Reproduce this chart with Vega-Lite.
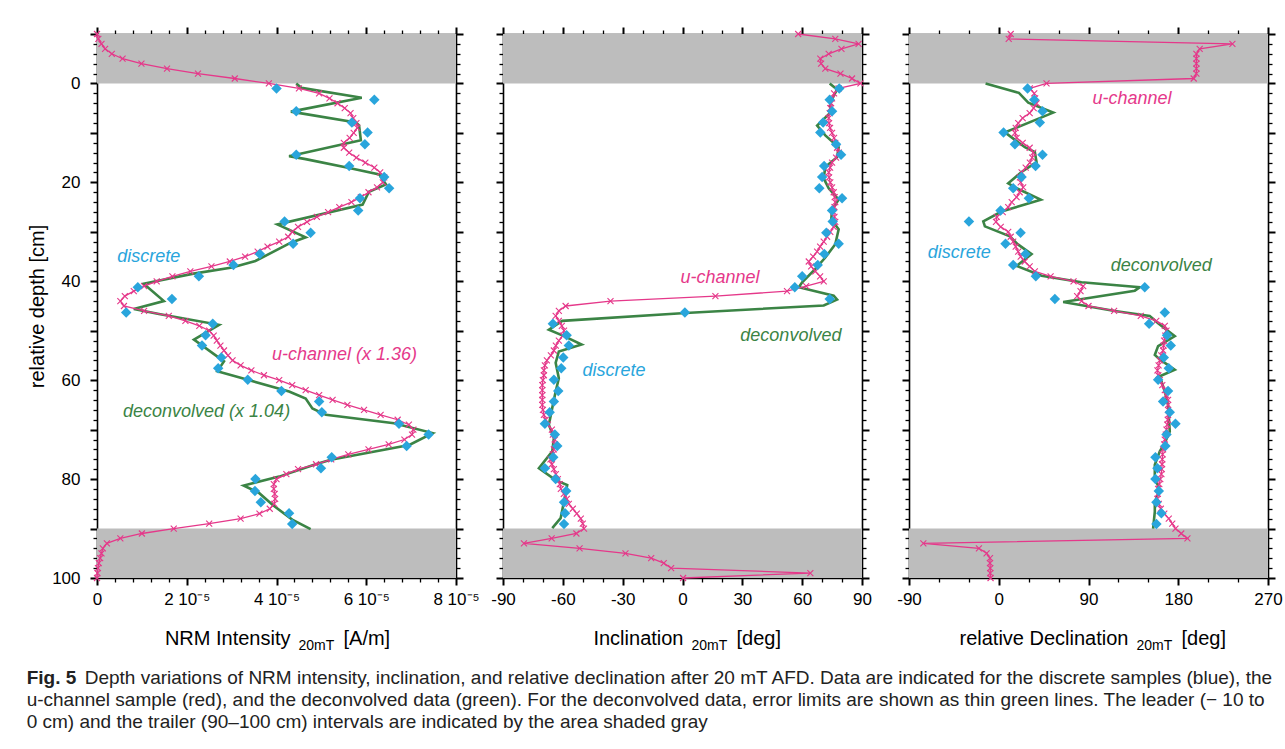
{
  "$schema": "https://vega.github.io/schema/vega-lite/v6.json",
  "background": "white",
  "padding": {"left": 26, "top": 25, "right": 5, "bottom": 5},
  "datasets": {
    "shade": [{"top": -10, "bottom": 0}, {"top": 90, "bottom": 100}],
    "intU": [
      {"d":-10,"v":0},{"d":-9,"v":0.03e-5},{"d":-8,"v":0.10e-5},{"d":-7,"v":0.18e-5},{"d":-6,"v":0.33e-5},{"d":-5,"v":0.57e-5},{"d":-4,"v":0.99e-5},{"d":-3,"v":1.56e-5},{"d":-2,"v":2.25e-5},{"d":-1,"v":3.07e-5},
      {"d":0,"v":3.83e-5},{"d":1,"v":4.50e-5},{"d":2,"v":4.95e-5},{"d":3,"v":5.18e-5},{"d":4,"v":5.36e-5},{"d":5,"v":5.52e-5},{"d":6,"v":5.65e-5},{"d":7,"v":5.71e-5},{"d":8,"v":5.78e-5},{"d":9,"v":5.80e-5},
      {"d":10,"v":5.72e-5},{"d":11,"v":5.63e-5},{"d":12,"v":5.50e-5},{"d":13,"v":5.50e-5},{"d":14,"v":5.62e-5},{"d":15,"v":5.78e-5},{"d":16,"v":5.98e-5},{"d":17,"v":6.18e-5},{"d":18,"v":6.31e-5},{"d":19,"v":6.40e-5},
      {"d":20,"v":6.37e-5},{"d":21,"v":6.24e-5},{"d":22,"v":6.05e-5},{"d":23,"v":5.88e-5},{"d":24,"v":5.67e-5},{"d":25,"v":5.40e-5},{"d":26,"v":5.15e-5},{"d":27,"v":4.90e-5},{"d":28,"v":4.68e-5},{"d":29,"v":4.48e-5},
      {"d":30,"v":4.35e-5},{"d":31,"v":4.26e-5},{"d":32,"v":4.06e-5},{"d":33,"v":3.80e-5},{"d":34,"v":3.58e-5},{"d":35,"v":3.30e-5},{"d":36,"v":2.96e-5},{"d":37,"v":2.55e-5},{"d":38,"v":2.08e-5},{"d":39,"v":1.68e-5},
      {"d":40,"v":1.33e-5},{"d":41,"v":1.05e-5},{"d":42,"v":0.82e-5},{"d":43,"v":0.62e-5},{"d":44,"v":0.52e-5},{"d":45,"v":0.60e-5},{"d":46,"v":1.05e-5},{"d":47,"v":1.60e-5},{"d":48,"v":1.97e-5},{"d":49,"v":2.28e-5},
      {"d":50,"v":2.50e-5},{"d":51,"v":2.60e-5},{"d":52,"v":2.67e-5},{"d":53,"v":2.75e-5},{"d":54,"v":2.83e-5},{"d":55,"v":2.92e-5},{"d":56,"v":3.02e-5},{"d":57,"v":3.20e-5},{"d":58,"v":3.44e-5},{"d":59,"v":3.72e-5},
      {"d":60,"v":4.06e-5},{"d":61,"v":4.35e-5},{"d":62,"v":4.65e-5},{"d":63,"v":4.95e-5},{"d":64,"v":5.25e-5},{"d":65,"v":5.58e-5},{"d":66,"v":5.95e-5},{"d":67,"v":6.32e-5},{"d":68,"v":6.70e-5},{"d":69,"v":6.95e-5},
      {"d":70,"v":7.05e-5},{"d":71,"v":7.02e-5},{"d":72,"v":6.85e-5},{"d":73,"v":6.50e-5},{"d":74,"v":6.05e-5},{"d":75,"v":5.60e-5},{"d":76,"v":5.22e-5},{"d":77,"v":4.88e-5},{"d":78,"v":4.48e-5},{"d":79,"v":4.22e-5},
      {"d":80,"v":4.00e-5},{"d":81,"v":3.94e-5},{"d":82,"v":3.94e-5},{"d":83,"v":3.96e-5},{"d":84,"v":3.97e-5},{"d":85,"v":3.95e-5},{"d":86,"v":3.85e-5},{"d":87,"v":3.62e-5},{"d":88,"v":3.20e-5},{"d":89,"v":2.50e-5},
      {"d":90,"v":1.71e-5},{"d":91,"v":1.00e-5},{"d":92,"v":0.52e-5},{"d":93,"v":0.22e-5},{"d":94,"v":0.13e-5},{"d":95,"v":0.10e-5},{"d":96,"v":0.07e-5},{"d":97,"v":0.04e-5},{"d":98,"v":0.02e-5},{"d":99,"v":0.01e-5},{"d":100,"v":0}
    ],
    "intD": [
      {"d":1.0,"v":4.00e-5},{"d":3.3,"v":6.18e-5},{"d":5.6,"v":4.44e-5},{"d":7.9,"v":5.68e-5},{"d":9.9,"v":6.03e-5},{"d":12.3,"v":5.97e-5},{"d":14.4,"v":4.44e-5},{"d":16.7,"v":5.62e-5},{"d":18.9,"v":6.40e-5},{"d":21.2,"v":6.51e-5},
      {"d":23.2,"v":5.86e-5},{"d":25.7,"v":5.82e-5},{"d":27.9,"v":4.18e-5},{"d":30.2,"v":4.76e-5},{"d":32.4,"v":4.37e-5},{"d":34.5,"v":3.63e-5},{"d":36.7,"v":3.04e-5},{"d":39.0,"v":2.27e-5},{"d":41.2,"v":0.91e-5},{"d":43.6,"v":1.67e-5},
      {"d":46.3,"v":0.65e-5},{"d":48.6,"v":2.58e-5},{"d":50.9,"v":2.42e-5},{"d":53.0,"v":2.34e-5},{"d":55.4,"v":2.77e-5},{"d":57.6,"v":2.70e-5},{"d":59.9,"v":3.36e-5},{"d":62.2,"v":4.11e-5},{"d":64.3,"v":4.95e-5},{"d":66.5,"v":5.01e-5},
      {"d":68.8,"v":6.73e-5},{"d":71.0,"v":7.39e-5},{"d":73.3,"v":6.90e-5},{"d":75.6,"v":5.23e-5},{"d":77.8,"v":4.99e-5},{"d":80.0,"v":3.53e-5},{"d":82.4,"v":3.52e-5},{"d":84.7,"v":3.65e-5},{"d":86.9,"v":4.28e-5},{"d":89.1,"v":4.35e-5}
    ],
    "intG": [
      {"d":0,"v":4.44e-5},{"d":0.9,"v":4.56e-5},{"d":2.9,"v":5.90e-5},{"d":5.7,"v":4.32e-5},{"d":7.9,"v":5.77e-5},{"d":8.5,"v":5.84e-5},{"d":11.5,"v":5.88e-5},{"d":14.7,"v":4.28e-5},{"d":15.3,"v":4.65e-5},{"d":17.1,"v":5.62e-5},
      {"d":18.4,"v":6.29e-5},{"d":20.4,"v":6.44e-5},{"d":21.9,"v":6.06e-5},{"d":24.5,"v":5.92e-5},{"d":28.5,"v":4.02e-5},{"d":31.1,"v":4.65e-5},{"d":32.2,"v":4.32e-5},{"d":35.9,"v":3.53e-5},{"d":37.2,"v":3.01e-5},{"d":38.5,"v":2.12e-5},
      {"d":40.5,"v":1.04e-5},{"d":44.0,"v":1.49e-5},{"d":45.6,"v":0.82e-5},{"d":46.6,"v":1.38e-5},{"d":48.8,"v":2.72e-5},{"d":51.8,"v":2.16e-5},{"d":56.2,"v":2.83e-5},{"d":58.2,"v":2.68e-5},{"d":59.4,"v":3.16e-5},{"d":62.3,"v":4.28e-5},
      {"d":63.7,"v":4.65e-5},{"d":65.7,"v":4.80e-5},{"d":67.0,"v":5.10e-5},{"d":68.7,"v":6.62e-5},{"d":70.7,"v":7.48e-5},{"d":73.1,"v":6.96e-5},{"d":76.1,"v":5.21e-5},{"d":77.1,"v":4.84e-5},{"d":79.5,"v":4.06e-5},{"d":81.3,"v":3.27e-5},
      {"d":82.8,"v":3.61e-5},{"d":85.2,"v":3.91e-5},{"d":88.2,"v":4.35e-5},{"d":90.1,"v":4.76e-5}
    ],
    "incU": [
      {"d":-10,"v":58},{"d":-9,"v":76.6},{"d":-8,"v":88.3},{"d":-7,"v":79.7},{"d":-6,"v":73.3},{"d":-5,"v":69.1},{"d":-4,"v":69.5},{"d":-3,"v":71.6},{"d":-2,"v":79.2},{"d":-1,"v":85},
      {"d":0,"v":89.2},{"d":1,"v":78.3},{"d":2,"v":76},{"d":3,"v":75},{"d":4,"v":74.5},{"d":5,"v":74.1},{"d":6,"v":73.8},{"d":7,"v":73.3},{"d":8,"v":73.5},{"d":9,"v":74},
      {"d":10,"v":75},{"d":11,"v":76},{"d":12,"v":76.6},{"d":13,"v":77.5},{"d":14,"v":78.3},{"d":15,"v":77},{"d":16,"v":75},{"d":17,"v":74},{"d":18,"v":73.3},{"d":19,"v":73.5},
      {"d":20,"v":74.1},{"d":21,"v":75},{"d":22,"v":75.8},{"d":23,"v":76.3},{"d":24,"v":76.6},{"d":25,"v":76.2},{"d":26,"v":75.8},{"d":27,"v":76.2},{"d":28,"v":76.6},{"d":29,"v":75.8},
      {"d":30,"v":74.1},{"d":31,"v":72.5},{"d":32,"v":70.8},{"d":33,"v":69},{"d":34,"v":67.5},{"d":35,"v":65.5},{"d":36,"v":63.3},{"d":37,"v":64.5},{"d":38,"v":66.6},{"d":39,"v":69},
      {"d":40,"v":70.8},{"d":41,"v":62},{"d":42,"v":52.4},{"d":43,"v":16.5},{"d":44,"v":-36.1},{"d":45,"v":-58.6},{"d":46,"v":-62},{"d":47,"v":-63.6},{"d":48,"v":-62},{"d":49,"v":-60.5},
      {"d":50,"v":-59.4},{"d":51,"v":-60},{"d":52,"v":-62},{"d":53,"v":-63.5},{"d":54,"v":-64.5},{"d":55,"v":-66},{"d":56,"v":-68},{"d":57,"v":-69},{"d":58,"v":-69.5},{"d":59,"v":-69.5},
      {"d":60,"v":-70},{"d":61,"v":-70.3},{"d":62,"v":-70.3},{"d":63,"v":-70.3},{"d":64,"v":-70.3},{"d":65,"v":-70.3},{"d":66,"v":-70},{"d":67,"v":-69.5},{"d":68,"v":-68.6},{"d":69,"v":-67.5},
      {"d":70,"v":-65.5},{"d":71,"v":-65},{"d":72,"v":-64},{"d":73,"v":-64},{"d":74,"v":-64.5},{"d":75,"v":-65},{"d":76,"v":-66.2},{"d":77,"v":-65.5},{"d":78,"v":-64.5},{"d":79,"v":-63.5},
      {"d":80,"v":-62.5},{"d":81,"v":-61.5},{"d":82,"v":-61},{"d":83,"v":-59.5},{"d":84,"v":-58},{"d":85,"v":-57},{"d":86,"v":-55},{"d":87,"v":-53},{"d":88,"v":-51},{"d":89,"v":-50},
      {"d":90,"v":-49.4},{"d":91,"v":-53.2},{"d":92,"v":-65.6},{"d":93,"v":-79.5},{"d":94,"v":-51.6},{"d":95,"v":-28.6},{"d":96,"v":-15.7},{"d":97,"v":-9.4},{"d":98,"v":-5.7},{"d":99,"v":64.1},{"d":100,"v":0.3}
    ],
    "incD": [
      {"d":1.0,"v":78.6},{"d":3.3,"v":73.8},{"d":5.6,"v":75.0},{"d":7.9,"v":70.5},{"d":9.9,"v":69.1},{"d":12.3,"v":77.0},{"d":14.4,"v":79.5},{"d":16.7,"v":71.0},{"d":18.9,"v":70.0},{"d":21.2,"v":68.6},
      {"d":23.2,"v":80.0},{"d":25.7,"v":75.0},{"d":27.9,"v":75.3},{"d":30.2,"v":72.1},{"d":32.4,"v":78.3},{"d":34.5,"v":71.1},{"d":36.7,"v":67.8},{"d":39.0,"v":60.0},{"d":41.2,"v":56.3},{"d":43.6,"v":73.8},
      {"d":46.3,"v":1.2},{"d":48.6,"v":-65},{"d":50.9,"v":-58.1},{"d":53.0,"v":-57},{"d":55.4,"v":-59.8},{"d":57.6,"v":-60.8},{"d":59.9,"v":-64.5},{"d":62.2,"v":-62.3},{"d":64.3,"v":-64.5},{"d":66.5,"v":-66.6},
      {"d":68.8,"v":-69},{"d":71.0,"v":-64},{"d":73.3,"v":-62.8},{"d":75.6,"v":-64.8},{"d":77.8,"v":-69},{"d":80.0,"v":-63.6},{"d":82.4,"v":-58.3},{"d":84.7,"v":-59.4},{"d":86.9,"v":-58.9},{"d":89.1,"v":-59.4}
    ],
    "incG": [
      {"d":0,"v":73.8},{"d":1.2,"v":77.5},{"d":3.9,"v":74.1},{"d":5.9,"v":74.1},{"d":8.5,"v":67.5},{"d":10.5,"v":71.6},{"d":12.9,"v":78.3},{"d":14.9,"v":77.5},{"d":16.9,"v":71.6},{"d":19.2,"v":70.8},
      {"d":21.2,"v":73.3},{"d":23.5,"v":78.3},{"d":25.5,"v":75.0},{"d":27.5,"v":74.6},{"d":29.5,"v":78.3},{"d":32.5,"v":76.6},{"d":35.2,"v":71.6},{"d":37.5,"v":66.6},{"d":40.2,"v":60.0},{"d":41.2,"v":58.3},
      {"d":42.9,"v":75.8},{"d":43.7,"v":77.5},{"d":44.9,"v":70.8},{"d":46.4,"v":1.5},{"d":48.0,"v":-60.3},{"d":49.8,"v":-67},{"d":51.1,"v":-59.4},{"d":52.8,"v":-50.6},{"d":54.2,"v":-62},{"d":56.5,"v":-63.6},
      {"d":59.6,"v":-62},{"d":62.3,"v":-63.6},{"d":65.6,"v":-65.3},{"d":69.0,"v":-67},{"d":71.7,"v":-64.5},{"d":74.4,"v":-65.3},{"d":77.8,"v":-72},{"d":80.2,"v":-63.6},{"d":81.2,"v":-57.8},{"d":84.5,"v":-59.4},
      {"d":87.9,"v":-61.1},{"d":89.9,"v":-65.3}
    ],
    "decU": [
      {"d":-10,"v":12},{"d":-9,"v":10},{"d":-8,"v":234.3},{"d":-7,"v":201.5},{"d":-6,"v":198.2},{"d":-5,"v":198.2},{"d":-4,"v":198.2},{"d":-3,"v":198.2},{"d":-2,"v":198.2},{"d":-1,"v":195.5},
      {"d":0,"v":47.9},{"d":1,"v":31.2},{"d":2,"v":35.6},{"d":3,"v":36.5},{"d":4,"v":37.9},{"d":5,"v":35},{"d":6,"v":31},{"d":7,"v":24},{"d":8,"v":19.5},{"d":9,"v":17},
      {"d":10,"v":16.2},{"d":11,"v":17.9},{"d":12,"v":24},{"d":13,"v":31},{"d":14,"v":34.6},{"d":15,"v":33.5},{"d":16,"v":31.2},{"d":17,"v":27},{"d":18,"v":22.9},{"d":19,"v":21.2},
      {"d":20,"v":22},{"d":21,"v":24.5},{"d":22,"v":21},{"d":23,"v":17.9},{"d":24,"v":13},{"d":25,"v":9.5},{"d":26,"v":4},{"d":27,"v":-2},{"d":28,"v":-2.8},{"d":29,"v":2},
      {"d":30,"v":9.5},{"d":31,"v":12},{"d":32,"v":14.5},{"d":33,"v":17},{"d":34,"v":19.5},{"d":35,"v":22},{"d":36,"v":26},{"d":37,"v":31},{"d":38,"v":36.2},{"d":39,"v":52},
      {"d":40,"v":75},{"d":41,"v":84.7},{"d":42,"v":82},{"d":43,"v":78.6},{"d":44,"v":83},{"d":45,"v":90},{"d":46,"v":115.7},{"d":47,"v":142.4},{"d":48,"v":158},{"d":49,"v":166.5},
      {"d":50,"v":168.2},{"d":51,"v":167},{"d":52,"v":165.8},{"d":53,"v":165.3},{"d":54,"v":164.8},{"d":55,"v":163},{"d":56,"v":161.5},{"d":57,"v":160.3},{"d":58,"v":159.1},{"d":59,"v":160},
      {"d":60,"v":161.5},{"d":61,"v":164},{"d":62,"v":166.5},{"d":63,"v":168},{"d":64,"v":169.8},{"d":65,"v":169.8},{"d":66,"v":169.8},{"d":67,"v":169.8},{"d":68,"v":169.5},{"d":69,"v":169},
      {"d":70,"v":168.2},{"d":71,"v":167.5},{"d":72,"v":166.5},{"d":73,"v":166},{"d":74,"v":164.8},{"d":75,"v":164.3},{"d":76,"v":164},{"d":77,"v":163.8},{"d":78,"v":163.5},{"d":79,"v":163.1},
      {"d":80,"v":162},{"d":81,"v":161},{"d":82,"v":159.8},{"d":83,"v":159.5},{"d":84,"v":159.1},{"d":85,"v":160.5},{"d":86,"v":162.5},{"d":87,"v":166},{"d":88,"v":170.5},{"d":89,"v":174},
      {"d":90,"v":177.2},{"d":91,"v":183},{"d":92,"v":189.2},{"d":93,"v":-75.6},{"d":94,"v":-19.9},{"d":95,"v":-12.2},{"d":96,"v":-8.8},{"d":97,"v":-8.8},{"d":98,"v":-8.5},{"d":99,"v":-8.5},{"d":100,"v":-8.2}
    ],
    "decD": [
      {"d":1.0,"v":28.9},{"d":3.3,"v":35.6},{"d":5.6,"v":43.9},{"d":7.9,"v":41.2},{"d":9.9,"v":4.8},{"d":12.3,"v":16.2},{"d":14.4,"v":43.9},{"d":16.7,"v":36.9},{"d":18.9,"v":22.9},{"d":21.2,"v":14.5},
      {"d":23.2,"v":30.2},{"d":25.7,"v":1.8},{"d":27.9,"v":-29.9},{"d":30.2,"v":21.9},{"d":32.4,"v":6.8},{"d":34.5,"v":26.9},{"d":36.7,"v":14.5},{"d":39.0,"v":37.2},{"d":41.2,"v":146.4},{"d":43.6,"v":56.3},
      {"d":46.3,"v":166.5},{"d":48.6,"v":150.8},{"d":50.9,"v":168.8},{"d":53.0,"v":172.5},{"d":55.4,"v":165.5},{"d":57.6,"v":170.5},{"d":59.9,"v":159.8},{"d":62.2,"v":169.8},{"d":64.3,"v":164.8},{"d":66.5,"v":171.5},
      {"d":68.8,"v":177.2},{"d":71.0,"v":168.2},{"d":73.3,"v":167.1},{"d":75.6,"v":157.1},{"d":77.8,"v":159.1},{"d":80.0,"v":157.1},{"d":82.4,"v":160.5},{"d":84.7,"v":158.1},{"d":86.9,"v":163.1},{"d":89.1,"v":158.1}
    ],
    "decG": [
      {"d":0,"v":-13.2},{"d":1.9,"v":20.2},{"d":3.9,"v":29.6},{"d":5.9,"v":54.6},{"d":9.9,"v":6.2},{"d":10.9,"v":12.9},{"d":12.9,"v":26.2},{"d":13.9,"v":36.2},{"d":15.9,"v":37.9},{"d":17.9,"v":22.9},
      {"d":20.2,"v":9.5},{"d":21.2,"v":17.9},{"d":23.5,"v":42.2},{"d":25.9,"v":2.8},{"d":27.9,"v":-15.5},{"d":28.9,"v":-13.9},{"d":30.9,"v":11.2},{"d":32.5,"v":18.9},{"d":34.5,"v":32.9},{"d":36.9,"v":17.9},
      {"d":38.9,"v":42.9},{"d":40.2,"v":83.0},{"d":41.2,"v":141.4},{"d":41.9,"v":136.4},{"d":44.2,"v":64.6},{"d":46.0,"v":116.4},{"d":47.0,"v":151.4},{"d":48.5,"v":159.8},{"d":51.1,"v":176.5},{"d":53.1,"v":159.8},
      {"d":54.9,"v":156.5},{"d":55.8,"v":161.5},{"d":57.9,"v":176.5},{"d":59.2,"v":161.5},{"d":62.3,"v":166.5},{"d":65.0,"v":169.8},{"d":70.4,"v":171.5},{"d":72.7,"v":166.5},{"d":74.4,"v":161.5},{"d":77.1,"v":156.5},
      {"d":79.8,"v":156.5},{"d":82.2,"v":161.5},{"d":84.6,"v":156.5},{"d":86.6,"v":156.5},{"d":90.0,"v":154.8}
    ],
    "intLab": [
      {"t":"discrete","s":"discrete","v":0.45e-5,"d":35.0},
      {"t":"u-channel (x 1.36)","s":"u-channel","v":3.90e-5,"d":55.0},
      {"t":"deconvolved (x 1.04)","s":"deconvolved","v":0.58e-5,"d":66.4}
    ],
    "incLab": [
      {"t":"u-channel","s":"u-channel","v":-1.0,"d":39.3},
      {"t":"deconvolved","s":"deconvolved","v":29.0,"d":51.1},
      {"t":"discrete","s":"discrete","v":-50.2,"d":58.1}
    ],
    "decLab": [
      {"t":"u-channel","s":"u-channel","v":94.0,"d":3.2},
      {"t":"discrete","s":"discrete","v":-71.3,"d":34.2},
      {"t":"deconvolved","s":"deconvolved","v":112.3,"d":36.9}
    ],
    "intTitle": [{"main":"NRM Intensity","sub":"20mT","unit":"[A/m]"}],
    "incTitle": [{"main":"Inclination","sub":"20mT","unit":"[deg]"}],
    "decTitle": [{"main":"relative Declination","sub":"20mT","unit":"[deg]"}]
  },
  "title": {
    "text": "Fig. 5",
    "subtitle": [
      "\u200b\u00a0\u00a0\u00a0\u00a0\u00a0\u00a0\u00a0\u00a0\u00a0\u00a0\u00a0Depth variations of NRM intensity, inclination, and relative declination after 20 mT AFD. Data are indicated for the discrete samples (blue), the",
      "u-channel sample (red), and the deconvolved data (green). For the deconvolved data, error limits are shown as thin green lines. The leader (\u2212 10 to",
      "0 cm) and the trailer (90\u2013100 cm) intervals are indicated by the area shaded gray"
    ],
    "orient": "bottom",
    "anchor": "start",
    "frame": "bounds",
    "offset": 16,
    "dx": -1,
    "font": "Liberation Sans",
    "fontSize": 19,
    "fontWeight": "bold",
    "color": "#222222",
    "subtitleFont": "Liberation Sans",
    "subtitleFontSize": 19,
    "subtitleColor": "#222222",
    "subtitleLineHeight": 22,
    "subtitlePadding": -19
  },
  "spacing": 47,
  "bounds": "flush",
  "hconcat": [
    {
      "width": 359, "height": 544,
      "resolve": {"axis": {"x": "independent", "y": "independent"}},
      "layer": [
        {
          "data": {"name": "shade"},
          "mark": {"type": "rect", "color": "#bdbdbd"},
          "encoding": {
            "x": {"datum": 0, "type": "quantitative",
              "scale": {"domain": [0, 0.00008], "nice": false, "zero": false},
              "axis": {"orient": "bottom", "title": null,
                "values": [0, 0.000004, 0.000008, 0.000012, 0.000016, 0.00002, 0.000024, 0.000028, 0.000032, 0.000036, 0.00004, 0.000044, 0.000048, 0.000052, 0.000056, 0.00006, 0.000064, 0.000068, 0.000072, 0.000076, 0.00008],
                "labelExpr": "round(datum.value*1e6) % 20 === 0 ? (datum.value === 0 ? '0' : round(datum.value*1e5) + ' 10\u207b\u2075') : ''",
                "tickSize": {"condition": {"test": "round(datum.value*1e6) % 20 === 0", "value": 7}, "value": 4},
                "tickWidth": {"condition": {"test": "round(datum.value*1e6) % 20 === 0", "value": 2}, "value": 1.3},
                "labelPadding": 6}},
            "x2": {"datum": 0.00008},
            "y": {"field": "top", "type": "quantitative",
              "scale": {"domain": [-10, 100], "reverse": true, "nice": false, "zero": false},
              "axis": {"orient": "left", "title": "relative depth [cm]",
                "values": [-10,-8,-6,-4,-2,0,2,4,6,8,10,12,14,16,18,20,22,24,26,28,30,32,34,36,38,40,42,44,46,48,50,52,54,56,58,60,62,64,66,68,70,72,74,76,78,80,82,84,86,88,90,92,94,96,98,100],
                "labelExpr": "datum.value % 20 === 0 ? datum.label : ''",
                "tickSize": {"condition": {"test": "datum.value % 10 === 0", "value": 7}, "value": 4},
                "tickWidth": {"condition": {"test": "datum.value % 10 === 0", "value": 2}, "value": 1.3},
                "labelPadding": 10, "titlePadding": 4}},
            "y2": {"field": "bottom"}
          }
        },
        {
          "data": {"name": "intG"},
          "mark": {"type": "line", "color": "#3b8445", "strokeWidth": 2.6},
          "encoding": {
            "x": {"field": "v", "type": "quantitative",
              "axis": {"orient": "top", "title": null, "labels": false,
                "values": [0, 0.000004, 0.000008, 0.000012, 0.000016, 0.00002, 0.000024, 0.000028, 0.000032, 0.000036, 0.00004, 0.000044, 0.000048, 0.000052, 0.000056, 0.00006, 0.000064, 0.000068, 0.000072, 0.000076, 0.00008],
                "tickSize": {"condition": {"test": "round(datum.value*1e6) % 20 === 0", "value": 7}, "value": 4},
                "tickWidth": {"condition": {"test": "round(datum.value*1e6) % 20 === 0", "value": 2}, "value": 1.3}}},
            "y": {"field": "d", "type": "quantitative",
              "axis": {"orient": "right", "title": null, "labels": false,
                "values": [-10,-8,-6,-4,-2,0,2,4,6,8,10,12,14,16,18,20,22,24,26,28,30,32,34,36,38,40,42,44,46,48,50,52,54,56,58,60,62,64,66,68,70,72,74,76,78,80,82,84,86,88,90,92,94,96,98,100],
                "tickSize": {"condition": {"test": "datum.value % 10 === 0", "value": 7}, "value": 4},
                "tickWidth": {"condition": {"test": "datum.value % 10 === 0", "value": 2}, "value": 1.3}}},
            "order": {"field": "d", "type": "quantitative"}
          }
        },
        {
          "data": {"name": "intU"},
          "mark": {"type": "line", "color": "#e5388a", "strokeWidth": 1.3},
          "encoding": {
            "x": {"field": "v", "type": "quantitative", "axis": null},
            "y": {"field": "d", "type": "quantitative", "axis": null},
            "order": {"field": "d", "type": "quantitative"}
          }
        },
        {
          "data": {"name": "intU"},
          "mark": {"type": "point", "shape": "M-1,-1L1,1M-1,1L1,-1", "filled": false, "color": "#e5388a", "strokeWidth": 1.1, "size": 36, "opacity": 1},
          "encoding": {
            "x": {"field": "v", "type": "quantitative", "axis": null},
            "y": {"field": "d", "type": "quantitative", "axis": null}
          }
        },
        {
          "data": {"name": "intD"},
          "mark": {"type": "point", "shape": "diamond", "filled": true, "color": "#29a5dc", "size": 110, "opacity": 1},
          "encoding": {
            "x": {"field": "v", "type": "quantitative", "axis": null},
            "y": {"field": "d", "type": "quantitative", "axis": null}
          }
        },
        {
          "data": {"name": "intLab"},
          "mark": {"type": "text", "align": "left", "baseline": "middle", "font": "Liberation Sans", "fontStyle": "italic", "fontSize": 18},
          "encoding": {
            "x": {"field": "v", "type": "quantitative", "axis": null},
            "y": {"field": "d", "type": "quantitative", "axis": null},
            "text": {"field": "t"},
            "color": {"field": "s", "type": "nominal", "legend": null,
              "scale": {"domain": ["discrete", "u-channel", "deconvolved"], "range": ["#29a5dc", "#e5388a", "#3b8445"]}}
          }
        },
        {
          "data": {"name": "intTitle"},
          "mark": {"type": "text", "align": "right", "baseline": "alphabetic", "font": "Liberation Sans", "fontSize": 20, "dx": 14, "color": "black"},
          "encoding": {"x": {"datum": 0.00004, "type": "quantitative", "axis": null}, "y": {"datum": 113.6, "type": "quantitative", "axis": null}, "text": {"field": "main"}}
        },
        {
          "data": {"name": "intTitle"},
          "mark": {"type": "text", "align": "left", "baseline": "alphabetic", "font": "Liberation Sans", "fontSize": 14, "dx": 22, "dy": 5, "color": "black"},
          "encoding": {"x": {"datum": 0.00004, "type": "quantitative", "axis": null}, "y": {"datum": 113.6, "type": "quantitative", "axis": null}, "text": {"field": "sub"}}
        },
        {
          "data": {"name": "intTitle"},
          "mark": {"type": "text", "align": "left", "baseline": "alphabetic", "font": "Liberation Sans", "fontSize": 20, "dx": 67, "color": "black"},
          "encoding": {"x": {"datum": 0.00004, "type": "quantitative", "axis": null}, "y": {"datum": 113.6, "type": "quantitative", "axis": null}, "text": {"field": "unit"}}
        }
      ]
    },
    {
      "width": 359, "height": 544,
      "resolve": {"axis": {"x": "independent", "y": "independent"}},
      "layer": [
        {
          "data": {"name": "shade"},
          "mark": {"type": "rect", "color": "#bdbdbd"},
          "encoding": {
            "x": {"datum": -90, "type": "quantitative",
              "scale": {"domain": [-90, 90], "nice": false, "zero": false},
              "axis": {"orient": "bottom", "title": null,
                "values": [-90,-80,-70,-60,-50,-40,-30,-20,-10,0,10,20,30,40,50,60,70,80,90],
                "labelExpr": "datum.value % 30 === 0 ? (datum.value < 0 ? '-' + abs(datum.value) : datum.label) : ''",
                "tickSize": {"condition": {"test": "datum.value % 30 === 0", "value": 7}, "value": 4},
                "tickWidth": {"condition": {"test": "datum.value % 30 === 0", "value": 2}, "value": 1.3},
                "labelPadding": 6}},
            "x2": {"datum": 90},
            "y": {"field": "top", "type": "quantitative",
              "scale": {"domain": [-10, 100], "reverse": true, "nice": false, "zero": false},
              "axis": {"orient": "left", "title": null, "labels": false,
                "values": [-10,-8,-6,-4,-2,0,2,4,6,8,10,12,14,16,18,20,22,24,26,28,30,32,34,36,38,40,42,44,46,48,50,52,54,56,58,60,62,64,66,68,70,72,74,76,78,80,82,84,86,88,90,92,94,96,98,100],
                "tickSize": {"condition": {"test": "datum.value % 10 === 0", "value": 7}, "value": 4},
                "tickWidth": {"condition": {"test": "datum.value % 10 === 0", "value": 2}, "value": 1.3}}},
            "y2": {"field": "bottom"}
          }
        },
        {
          "data": {"name": "incG"},
          "mark": {"type": "line", "color": "#3b8445", "strokeWidth": 2.6},
          "encoding": {
            "x": {"field": "v", "type": "quantitative",
              "axis": {"orient": "top", "title": null, "labels": false,
                "values": [-90,-80,-70,-60,-50,-40,-30,-20,-10,0,10,20,30,40,50,60,70,80,90],
                "tickSize": {"condition": {"test": "datum.value % 30 === 0", "value": 7}, "value": 4},
                "tickWidth": {"condition": {"test": "datum.value % 30 === 0", "value": 2}, "value": 1.3}}},
            "y": {"field": "d", "type": "quantitative",
              "axis": {"orient": "right", "title": null, "labels": false,
                "values": [-10,-8,-6,-4,-2,0,2,4,6,8,10,12,14,16,18,20,22,24,26,28,30,32,34,36,38,40,42,44,46,48,50,52,54,56,58,60,62,64,66,68,70,72,74,76,78,80,82,84,86,88,90,92,94,96,98,100],
                "tickSize": {"condition": {"test": "datum.value % 10 === 0", "value": 7}, "value": 4},
                "tickWidth": {"condition": {"test": "datum.value % 10 === 0", "value": 2}, "value": 1.3}}},
            "order": {"field": "d", "type": "quantitative"}
          }
        },
        {
          "data": {"name": "incU"},
          "mark": {"type": "line", "color": "#e5388a", "strokeWidth": 1.3},
          "encoding": {
            "x": {"field": "v", "type": "quantitative", "axis": null},
            "y": {"field": "d", "type": "quantitative", "axis": null},
            "order": {"field": "d", "type": "quantitative"}
          }
        },
        {
          "data": {"name": "incU"},
          "mark": {"type": "point", "shape": "M-1,-1L1,1M-1,1L1,-1", "filled": false, "color": "#e5388a", "strokeWidth": 1.1, "size": 36, "opacity": 1},
          "encoding": {
            "x": {"field": "v", "type": "quantitative", "axis": null},
            "y": {"field": "d", "type": "quantitative", "axis": null}
          }
        },
        {
          "data": {"name": "incD"},
          "mark": {"type": "point", "shape": "diamond", "filled": true, "color": "#29a5dc", "size": 110, "opacity": 1},
          "encoding": {
            "x": {"field": "v", "type": "quantitative", "axis": null},
            "y": {"field": "d", "type": "quantitative", "axis": null}
          }
        },
        {
          "data": {"name": "incLab"},
          "mark": {"type": "text", "align": "left", "baseline": "middle", "font": "Liberation Sans", "fontStyle": "italic", "fontSize": 18},
          "encoding": {
            "x": {"field": "v", "type": "quantitative", "axis": null},
            "y": {"field": "d", "type": "quantitative", "axis": null},
            "text": {"field": "t"},
            "color": {"field": "s", "type": "nominal", "legend": null,
              "scale": {"domain": ["discrete", "u-channel", "deconvolved"], "range": ["#29a5dc", "#e5388a", "#3b8445"]}}
          }
        },
        {
          "data": {"name": "incTitle"},
          "mark": {"type": "text", "align": "right", "baseline": "alphabetic", "font": "Liberation Sans", "fontSize": 20, "dx": 1, "color": "black"},
          "encoding": {"x": {"datum": 0, "type": "quantitative", "axis": null}, "y": {"datum": 113.6, "type": "quantitative", "axis": null}, "text": {"field": "main"}}
        },
        {
          "data": {"name": "incTitle"},
          "mark": {"type": "text", "align": "left", "baseline": "alphabetic", "font": "Liberation Sans", "fontSize": 14, "dx": 9, "dy": 5, "color": "black"},
          "encoding": {"x": {"datum": 0, "type": "quantitative", "axis": null}, "y": {"datum": 113.6, "type": "quantitative", "axis": null}, "text": {"field": "sub"}}
        },
        {
          "data": {"name": "incTitle"},
          "mark": {"type": "text", "align": "left", "baseline": "alphabetic", "font": "Liberation Sans", "fontSize": 20, "dx": 54, "color": "black"},
          "encoding": {"x": {"datum": 0, "type": "quantitative", "axis": null}, "y": {"datum": 113.6, "type": "quantitative", "axis": null}, "text": {"field": "unit"}}
        }
      ]
    },
    {
      "width": 359, "height": 544,
      "resolve": {"axis": {"x": "independent", "y": "independent"}},
      "layer": [
        {
          "data": {"name": "shade"},
          "mark": {"type": "rect", "color": "#bdbdbd"},
          "encoding": {
            "x": {"datum": -90, "type": "quantitative",
              "scale": {"domain": [-90, 270], "nice": false, "zero": false},
              "axis": {"orient": "bottom", "title": null,
                "values": [-90,-60,-30,0,30,60,90,120,150,180,210,240,270],
                "labelExpr": "datum.value % 90 === 0 ? (datum.value < 0 ? '-' + abs(datum.value) : datum.label) : ''",
                "tickSize": {"condition": {"test": "datum.value % 90 === 0", "value": 7}, "value": 4},
                "tickWidth": {"condition": {"test": "datum.value % 90 === 0", "value": 2}, "value": 1.3},
                "labelPadding": 6}},
            "x2": {"datum": 270},
            "y": {"field": "top", "type": "quantitative",
              "scale": {"domain": [-10, 100], "reverse": true, "nice": false, "zero": false},
              "axis": {"orient": "left", "title": null, "labels": false,
                "values": [-10,-8,-6,-4,-2,0,2,4,6,8,10,12,14,16,18,20,22,24,26,28,30,32,34,36,38,40,42,44,46,48,50,52,54,56,58,60,62,64,66,68,70,72,74,76,78,80,82,84,86,88,90,92,94,96,98,100],
                "tickSize": {"condition": {"test": "datum.value % 10 === 0", "value": 7}, "value": 4},
                "tickWidth": {"condition": {"test": "datum.value % 10 === 0", "value": 2}, "value": 1.3}}},
            "y2": {"field": "bottom"}
          }
        },
        {
          "data": {"name": "decG"},
          "mark": {"type": "line", "color": "#3b8445", "strokeWidth": 2.6},
          "encoding": {
            "x": {"field": "v", "type": "quantitative",
              "axis": {"orient": "top", "title": null, "labels": false,
                "values": [-90,-60,-30,0,30,60,90,120,150,180,210,240,270],
                "tickSize": {"condition": {"test": "datum.value % 90 === 0", "value": 7}, "value": 4},
                "tickWidth": {"condition": {"test": "datum.value % 90 === 0", "value": 2}, "value": 1.3}}},
            "y": {"field": "d", "type": "quantitative",
              "axis": {"orient": "right", "title": null, "labels": false,
                "values": [-10,-8,-6,-4,-2,0,2,4,6,8,10,12,14,16,18,20,22,24,26,28,30,32,34,36,38,40,42,44,46,48,50,52,54,56,58,60,62,64,66,68,70,72,74,76,78,80,82,84,86,88,90,92,94,96,98,100],
                "tickSize": {"condition": {"test": "datum.value % 10 === 0", "value": 7}, "value": 4},
                "tickWidth": {"condition": {"test": "datum.value % 10 === 0", "value": 2}, "value": 1.3}}},
            "order": {"field": "d", "type": "quantitative"}
          }
        },
        {
          "data": {"name": "decU"},
          "mark": {"type": "line", "color": "#e5388a", "strokeWidth": 1.3},
          "encoding": {
            "x": {"field": "v", "type": "quantitative", "axis": null},
            "y": {"field": "d", "type": "quantitative", "axis": null},
            "order": {"field": "d", "type": "quantitative"}
          }
        },
        {
          "data": {"name": "decU"},
          "mark": {"type": "point", "shape": "M-1,-1L1,1M-1,1L1,-1", "filled": false, "color": "#e5388a", "strokeWidth": 1.1, "size": 36, "opacity": 1},
          "encoding": {
            "x": {"field": "v", "type": "quantitative", "axis": null},
            "y": {"field": "d", "type": "quantitative", "axis": null}
          }
        },
        {
          "data": {"name": "decD"},
          "mark": {"type": "point", "shape": "diamond", "filled": true, "color": "#29a5dc", "size": 110, "opacity": 1},
          "encoding": {
            "x": {"field": "v", "type": "quantitative", "axis": null},
            "y": {"field": "d", "type": "quantitative", "axis": null}
          }
        },
        {
          "data": {"name": "decLab"},
          "mark": {"type": "text", "align": "left", "baseline": "middle", "font": "Liberation Sans", "fontStyle": "italic", "fontSize": 18},
          "encoding": {
            "x": {"field": "v", "type": "quantitative", "axis": null},
            "y": {"field": "d", "type": "quantitative", "axis": null},
            "text": {"field": "t"},
            "color": {"field": "s", "type": "nominal", "legend": null,
              "scale": {"domain": ["discrete", "u-channel", "deconvolved"], "range": ["#29a5dc", "#e5388a", "#3b8445"]}}
          }
        },
        {
          "data": {"name": "decTitle"},
          "mark": {"type": "text", "align": "right", "baseline": "alphabetic", "font": "Liberation Sans", "fontSize": 20, "dx": 40, "color": "black"},
          "encoding": {"x": {"datum": 90, "type": "quantitative", "axis": null}, "y": {"datum": 113.6, "type": "quantitative", "axis": null}, "text": {"field": "main"}}
        },
        {
          "data": {"name": "decTitle"},
          "mark": {"type": "text", "align": "left", "baseline": "alphabetic", "font": "Liberation Sans", "fontSize": 14, "dx": 48, "dy": 5, "color": "black"},
          "encoding": {"x": {"datum": 90, "type": "quantitative", "axis": null}, "y": {"datum": 113.6, "type": "quantitative", "axis": null}, "text": {"field": "sub"}}
        },
        {
          "data": {"name": "decTitle"},
          "mark": {"type": "text", "align": "left", "baseline": "alphabetic", "font": "Liberation Sans", "fontSize": 20, "dx": 93, "color": "black"},
          "encoding": {"x": {"datum": 90, "type": "quantitative", "axis": null}, "y": {"datum": 113.6, "type": "quantitative", "axis": null}, "text": {"field": "unit"}}
        }
      ]
    }
  ],
  "config": {
    "view": {"stroke": null},
    "axis": {
      "grid": false,
      "domainColor": "black", "domainWidth": 1.6,
      "tickColor": "black",
      "labelFont": "Liberation Sans", "labelFontSize": 17, "labelColor": "black",
      "labelOverlap": false, "labelFlush": false,
      "titleFont": "Liberation Sans", "titleFontSize": 20, "titleFontWeight": "normal", "titleColor": "black"
    }
  }
}
